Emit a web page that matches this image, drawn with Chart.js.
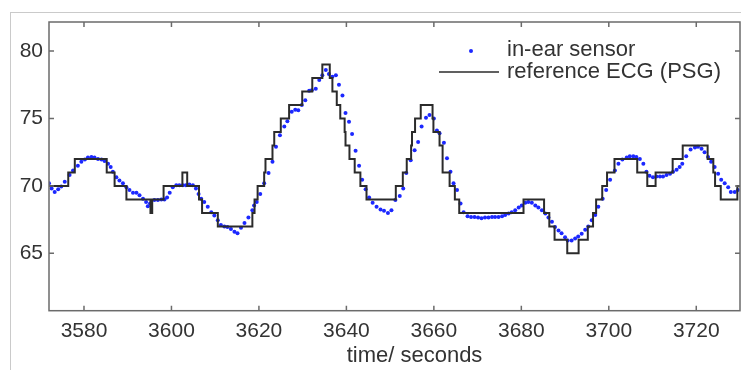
<!DOCTYPE html>
<html>
<head>
<meta charset="utf-8">
<script src="https://cdn.jsdelivr.net/npm/chart.js@4/dist/chart.umd.min.js"></script>
<style>
  html, body { margin: 0; padding: 0; background: #fff; overflow: hidden; width: 741px; height: 370px; }
  #frame { position: absolute; left: 10px; top: 12px; width: 800px; height: 400px;
           border-left: 1px solid #cacaca; border-top: 1px solid #cacaca; }
  #wrap { position: absolute; left: 0; top: 0; width: 744px; height: 370px; }
</style>
</head>
<body>
<div id="frame"></div>
<div id="wrap"><canvas id="c" width="744" height="370"></canvas></div>
<script>
// Heart rate from the in-ear sensor (beats per minute), one sample per time stamp
const sensorTime = [
  3572.0, 3572.6, 3573.3, 3574.1, 3574.8, 3575.6, 3576.7, 3577.5, 3578.6, 3579.4,
  3580.2, 3580.9, 3581.7, 3582.4, 3583.2, 3584.0, 3584.7, 3585.5, 3586.1, 3586.6,
  3587.4, 3588.1, 3588.9, 3589.7, 3590.4, 3591.2, 3592.0, 3592.7, 3593.5, 3594.2,
  3594.6, 3595.1, 3596.1, 3596.9, 3597.7, 3598.4, 3599.0, 3599.6, 3600.3, 3601.1,
  3601.8, 3602.6, 3603.3, 3604.1, 3604.9, 3605.6, 3606.2, 3606.8, 3607.5, 3608.3,
  3609.1, 3609.8, 3610.6, 3611.3, 3612.1, 3612.8, 3613.6, 3614.4, 3615.1, 3615.9,
  3616.7, 3617.6, 3618.5, 3618.9, 3619.5, 3620.3, 3621.2, 3622.2, 3623.1, 3623.9,
  3624.8, 3625.8, 3626.5, 3627.5, 3628.3, 3629.0, 3629.8, 3630.6, 3631.5, 3632.1,
  3633.0, 3633.8, 3634.5, 3635.3, 3636.0, 3636.8, 3637.6, 3638.3, 3639.1, 3639.8,
  3640.6, 3641.3, 3642.1, 3642.9, 3643.6, 3644.4, 3645.2, 3646.0, 3646.9, 3647.8,
  3648.6, 3649.5, 3650.3, 3651.2, 3652.2, 3653.0, 3653.7, 3654.7, 3655.6, 3656.4,
  3657.2, 3658.2, 3659.0, 3660.0, 3660.7, 3661.3, 3662.3, 3663.0, 3663.8, 3664.5,
  3665.3, 3666.1, 3666.8, 3667.7, 3668.5, 3669.3, 3670.1, 3670.9, 3671.7, 3672.5,
  3673.3, 3674.0, 3674.8, 3675.6, 3676.3, 3677.1, 3677.8, 3678.6, 3679.4, 3680.1,
  3680.9, 3681.6, 3682.4, 3683.2, 3683.9, 3684.7, 3685.5, 3686.2, 3687.0, 3687.7,
  3688.5, 3689.2, 3690.0, 3690.6, 3691.5, 3692.3, 3693.0, 3693.8, 3694.6, 3695.3,
  3696.1, 3696.9, 3697.6, 3698.6, 3699.4, 3700.3, 3701.4, 3702.2, 3703.1, 3704.1,
  3704.8, 3705.6, 3706.3, 3707.1, 3707.9, 3708.6, 3709.3, 3710.1, 3710.9, 3711.7,
  3712.4, 3713.2, 3714.0, 3714.7, 3715.5, 3716.2, 3716.8, 3717.7, 3718.7, 3719.7,
  3720.4, 3721.2, 3721.9, 3722.7, 3723.4, 3724.2, 3725.0, 3725.7, 3726.5, 3727.3,
  3727.9, 3728.8, 3729.5
];
const sensorHR = [
  70.2, 69.8, 69.55, 69.75, 69.95, 70.3, 70.8, 71.15, 71.5, 71.8,
  71.95, 72.1, 72.15, 72.1, 72.0, 71.95, 71.85, 71.65, 71.4, 71.05,
  70.65, 70.4, 70.2, 69.9, 69.7, 69.5, 69.5, 69.3, 69.05, 68.8,
  68.5, 68.7, 68.95, 68.95, 69.0, 69.0, 69.15, 69.5, 69.9, 70.05,
  70.05, 70.05, 70.05, 70.1, 70.05, 69.8, 69.4, 69.05, 68.8, 68.45,
  68.05, 67.8, 67.45, 67.1, 67.0, 66.95, 66.8, 66.6, 66.5, 66.9,
  67.25, 67.65, 68.2, 68.55, 68.8, 69.4, 70.2, 70.95, 71.8, 72.9,
  73.75, 74.4, 74.8, 75.5, 75.65, 75.6, 76.0, 76.35, 77.05, 77.1,
  77.2, 77.85, 78.2, 78.6, 78.3, 78.1, 78.2, 77.5, 76.7, 75.4,
  74.75, 73.85, 72.6, 71.5, 70.45, 69.75, 69.15, 68.75, 68.45, 68.25,
  68.15, 68.0, 68.2, 68.95, 69.25, 69.8, 70.95, 71.9, 72.65, 73.25,
  74.4, 75.05, 75.25, 75.0, 74.1, 73.9, 73.2, 72.05, 71.05, 70.2,
  69.7, 68.7, 68.05, 67.75, 67.7, 67.7, 67.65, 67.6, 67.65, 67.65,
  67.7, 67.7, 67.7, 67.75, 67.85, 67.95, 68.05, 68.2, 68.4, 68.55,
  68.75, 68.8, 68.75, 68.55, 68.4, 68.2, 67.95, 67.65, 67.35, 66.95,
  66.7, 66.5, 66.2, 65.95, 65.95, 66.1, 66.25, 66.45, 66.75, 67.0,
  67.45, 67.85, 68.45, 69.05, 69.7, 70.45, 71.15, 71.65, 71.95, 72.1,
  72.2, 72.2, 72.15, 72.0, 71.65, 71.05, 70.75, 70.65, 70.7, 70.7,
  70.7, 70.8, 70.9, 71.05, 71.2, 71.4, 71.65, 72.2, 72.7, 72.85,
  72.9, 72.75, 72.5, 72.15, 71.8, 71.4, 70.9, 70.45, 70.2, 69.9,
  69.55, 69.55, 69.7
];

// Reference ECG heart rate: each value holds up to its time stamp from the previous one
const ecgTime = [
  3571, 3576.4, 3577.9, 3585.2, 3587.0, 3589.7, 3595.2, 3595.6, 3598.2, 3602.5,
  3603.6, 3606.3, 3607.0, 3610.6, 3618.5, 3619.0, 3619.7, 3621.2, 3621.5, 3623.1,
  3623.5, 3625.0, 3626.9, 3629.9, 3632.2, 3634.5, 3636.2, 3636.8, 3637.8, 3638.6,
  3639.6, 3639.8, 3640.7, 3641.9, 3643.2, 3644.6, 3651.3, 3652.9, 3653.8, 3654.8,
  3655.0, 3655.7, 3657.0, 3659.7, 3659.9, 3661.3, 3662.0, 3663.6, 3664.8, 3665.8,
  3680.5, 3685.2, 3686.4, 3687.6, 3690.5, 3693.1, 3695.2, 3696.4, 3697.1, 3698.5,
  3699.6, 3701.3, 3706.5, 3708.8, 3710.7, 3714.6, 3716.9, 3722.6, 3723.9, 3724.3,
  3725.6, 3729.4, 3732
];
const ecgHR = [
  70, 71, 72, 71, 70, 69, 68, 69, 70, 71,
  70, 69, 68, 67, 68, 69, 70, 71, 72, 73,
  74, 75, 76, 77, 78, 79, 78, 77, 76, 75,
  74, 73, 72, 71, 70, 69, 70, 71, 72, 73,
  74, 75, 76, 75, 74, 73, 71, 70, 69, 68,
  69, 68, 67, 66, 65, 66, 67, 68, 69, 70,
  71, 72, 71, 70, 71, 72, 73, 72, 71, 70,
  69, 70, 70
];

const xTicks = [3580, 3600, 3620, 3640, 3660, 3680, 3700, 3720];
const yTicks = [65, 70, 75, 80];
const xTitle = 'time/ seconds';
const seriesNames = ['in-ear sensor', 'reference ECG (PSG)'];

const FONT = '"Liberation Sans", Arial, sans-serif';
const TEXT = '#333333';
const AXIS = '#6b6b6b';
const BLUE = 'rgb(28, 40, 255)';
const LINE = '#2b2b2b';

// Box with inward ticks on all four sides, the in-plot legend and the x axis title
const framePlugin = {
  id: 'frameAndLegend',
  afterDatasetsDraw(chart) {
    const { ctx, chartArea: a, scales: { x, y } } = chart;
    ctx.save();
    ctx.strokeStyle = AXIS;
    ctx.lineWidth = 1.5;
    ctx.strokeRect(a.left, a.top, a.right - a.left, a.bottom - a.top);
    ctx.beginPath();
    const tl = 5;
    xTicks.forEach(v => {
      const px = x.getPixelForValue(v);
      ctx.moveTo(px, a.bottom); ctx.lineTo(px, a.bottom - tl);
      ctx.moveTo(px, a.top); ctx.lineTo(px, a.top + tl);
    });
    yTicks.forEach(v => {
      const py = y.getPixelForValue(v);
      ctx.moveTo(a.left, py); ctx.lineTo(a.left + tl, py);
      ctx.moveTo(a.right, py); ctx.lineTo(a.right - tl, py);
    });
    ctx.stroke();

    // legend, top right inside the plot
    const textX = a.left + 458;
    const row1 = a.top + 28, row2 = a.top + 50;
    ctx.fillStyle = BLUE;
    ctx.beginPath();
    ctx.arc(textX - 36, row1 + 1, 2, 0, Math.PI * 2);
    ctx.fill();
    ctx.strokeStyle = LINE;
    ctx.lineWidth = 1.4;
    ctx.beginPath();
    ctx.moveTo(textX - 68, row2); ctx.lineTo(textX - 8, row2);
    ctx.stroke();
    ctx.fillStyle = TEXT;
    ctx.font = '22px ' + FONT;
    ctx.textAlign = 'left';
    ctx.textBaseline = 'middle';
    ctx.fillText(seriesNames[0], textX, row1);
    ctx.fillText(seriesNames[1], textX, row2);

    // x axis title
    ctx.textAlign = 'center';
    ctx.fillText(xTitle, (a.left + a.right) / 2 + 20, a.bottom + 45);
    ctx.restore();
  }
};

new Chart(document.getElementById('c'), {
  type: 'scatter',
  data: {
    datasets: [
      {
        label: seriesNames[0],
        data: sensorTime.map((t, i) => ({ x: t, y: sensorHR[i] })),
        pointRadius: 2,
        pointBackgroundColor: BLUE,
        pointBorderWidth: 0,
        showLine: false,
        order: 1
      },
      {
        type: 'line',
        label: seriesNames[1],
        data: ecgTime.map((t, i) => ({ x: t, y: ecgHR[i] })),
        stepped: 'before',
        borderColor: LINE,
        borderWidth: 2,
        pointRadius: 0,
        fill: false,
        order: 0
      }
    ]
  },
  options: {
    responsive: false,
    devicePixelRatio: 1,
    animation: false,
    layout: { padding: { top: 22, right: 2, bottom: 0, left: 0 } },
    plugins: { legend: { display: false }, tooltip: { enabled: false } },
    scales: {
      x: {
        type: 'linear',
        min: 3572,
        max: 3730,
        afterBuildTicks: s => { s.ticks = xTicks.map(v => ({ value: v })); },
        afterFit: s => { s.height = 59.3; },
        grid: { display: false, drawTicks: false },
        border: { display: false },
        ticks: { color: TEXT, font: { size: 21, family: FONT }, padding: 8, maxRotation: 0,
                 callback: v => String(v) }
      },
      y: {
        type: 'linear',
        min: 60.75,
        max: 82.15,
        afterBuildTicks: s => { s.ticks = yTicks.map(v => ({ value: v })); },
        afterFit: s => { s.width = 49; },
        grid: { display: false, drawTicks: false },
        border: { display: false },
        ticks: { color: TEXT, font: { size: 21, family: FONT }, padding: 6,
                 callback: v => String(v) }
      }
    }
  },
  plugins: [framePlugin]
});
</script>
</body>
</html>
